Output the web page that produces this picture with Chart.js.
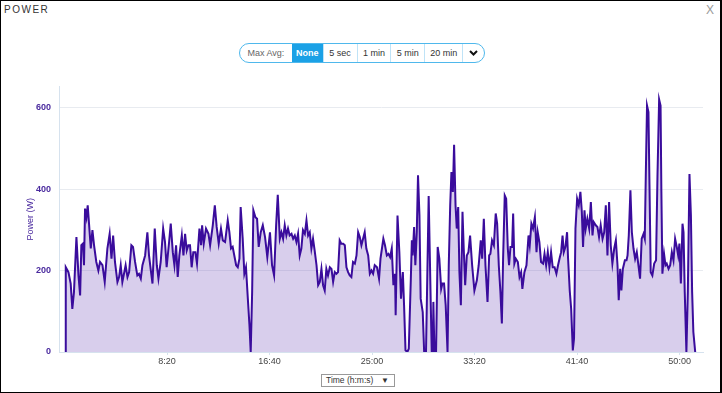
<!DOCTYPE html>
<html>
<head>
<meta charset="utf-8">
<script src="https://cdn.jsdelivr.net/npm/chart.js@4"></script>
<style>
    body { margin: 0; background: #fff; font-family: "Liberation Sans", Arial, sans-serif; }
    .frame { position: relative; width: 722px; height: 393px; box-sizing: border-box; border: 1px solid #000; border-right-width: 2px; overflow: hidden; }
    .title { position: absolute; left: 3px; top: 3px; font-size: 10px; letter-spacing: 1.5px; color: #333; }
    .close { position: absolute; right: 6px; top: 2px; font-size: 12px; color: #999; }
    .pill { position: absolute; left: 238px; top: 42px; width: 246px; height: 20px; box-sizing: border-box; border: 1px solid #4fb8ec; border-radius: 10px; display: flex; overflow: hidden; font-size: 9px; color: #333; }
    .pill div { display: flex; align-items: center; justify-content: center; border-left: 1px solid #bfe3f7; box-sizing: border-box; }
    .pill .lbl { border-left: none; color: #666; width: 52px; }
    .pill .on { background: #1ba1e6; color: #fff; font-weight: bold; border-left: none; }
    .sel { position: absolute; left: 320px; top: 373px; width: 74px; height: 13px; box-sizing: border-box; border: 1px solid #999; font-size: 8.5px; color: #333; line-height: 11px; padding-left: 4px; }
    .sel span { position: absolute; right: 5px; top: 0; font-size: 8px; }
    .chart-box { position: absolute; left: 10px; top: 72px; width: 700px; height: 298px; }
</style>
</head>
<body>
<div class="frame">
    <div class="title">POWER</div>
    <div class="close">X</div>
    <div class="pill">
        <div class="lbl">Max Avg:</div>
        <div class="on" style="width:31px">None</div>
        <div style="width:34px">5 sec</div>
        <div style="width:34px">1 min</div>
        <div style="width:34px">5 min</div>
        <div style="width:38px">20 min</div>
        <div style="width:22px"><svg width="9" height="6" viewBox="0 0 9 6"><path d="M1 1 L4.5 4.5 L8 1" stroke="#111" stroke-width="2" fill="none"/></svg></div>
    </div>
    <div class="chart-box"><canvas id="powerChart"></canvas></div>
    <div class="sel">Time (h:m:s)<span>&#9660;</span></div>
</div>
<script>
// Chart data (seconds, watts)
const timeSec = [4, 6, 19, 30, 38, 46, 58, 68, 76, 82, 90, 95, 100, 107, 113, 120, 128, 136, 144, 155, 165, 173, 185, 196, 209, 220, 229, 237, 246, 258, 266, 274, 282, 290, 298, 307, 315, 326, 334, 344, 355, 363, 372, 380, 393, 404, 412, 420, 429, 440, 450, 458, 469, 481, 490, 498, 510,
    518, 528, 536, 544, 552, 560, 572, 580, 588, 596, 604, 612, 620, 628, 638, 646, 658, 666, 671, 679, 690, 702, 710, 723, 733, 742, 752, 763, 772, 783, 796, 804, 812, 820, 828, 837, 845, 853, 859, 869, 877, 885, 894, 902, 908, 915, 921, 931, 939, 947, 957, 967, 978, 989, 1002, 1012, 1022, 1032,
    1040, 1050, 1058, 1066, 1074, 1082, 1090, 1098, 1107, 1115, 1123, 1131, 1139, 1147, 1155, 1163, 1172, 1180, 1188, 1196, 1204, 1212, 1220, 1229, 1237, 1245, 1253, 1261, 1269, 1277, 1285, 1294, 1302, 1310, 1318, 1326, 1334, 1342, 1350, 1359, 1367, 1375, 1383, 1391, 1399, 1407, 1416, 1424, 1432, 1440, 1448, 1456, 1464, 1472, 1481, 1489, 1497, 1505, 1513, 1524, 1534, 1541,
    1555, 1563, 1572, 1580, 1588, 1596, 1604, 1612, 1615, 1624, 1633, 1641, 1650, 1656, 1663, 1672, 1679, 1689, 1694, 1698, 1705, 1711, 1718, 1724, 1731, 1737, 1747, 1754, 1763, 1776, 1786, 1791, 1796, 1799, 1804, 1812, 1820, 1828, 1837, 1843, 1851, 1859, 1868, 1874, 1881, 1887, 1894, 1900, 1907, 1913, 1920, 1926, 1933, 1941, 1947, 1954, 1962, 1970, 1978, 1988, 1999, 2011, 2020, 2030, 2037, 2045, 2053, 2063,
    2071, 2077, 2085, 2094, 2103, 2110, 2118, 2126, 2133, 2139, 2147, 2154, 2162, 2168, 2175, 2183, 2188, 2194, 2201, 2211, 2219, 2227, 2233, 2243, 2253, 2263, 2269, 2277, 2285, 2294, 2302, 2308, 2316, 2324, 2334, 2341, 2349, 2357, 2365, 2373, 2381, 2390, 2399, 2407, 2416, 2422, 2429, 2435, 2443, 2451, 2456, 2464, 2471, 2479, 2485, 2492, 2500, 2508, 2516, 2523, 2529, 2536, 2542, 2550, 2559, 2567, 2575, 2581, 2591,
    2599, 2607, 2615, 2624, 2632, 2640, 2648, 2656, 2664, 2672, 2681, 2689, 2697, 2703, 2710, 2716, 2723, 2733, 2741, 2746, 2752, 2760, 2767, 2775, 2783, 2791, 2799, 2807, 2815, 2824, 2830, 2835, 2841, 2848, 2853, 2859, 2867, 2876, 2885, 2892, 2900, 2907, 2911, 2916, 2924, 2931, 2937, 2946, 2954, 2962, 2970, 2978, 2986, 2993, 2999, 3006, 3014, 3019, 3025, 3033, 3040, 3048, 3055, 3061, 3067, 3076];
const powerW = [0, 208, 196, 168, 106, 147, 282, 188, 139, 262, 266, 213, 352, 331, 360, 311, 254, 299, 262, 221, 200, 221, 213, 172, 254, 290, 229, 286, 221, 172, 184, 213, 172, 192, 213, 184, 196, 262, 258, 221, 188, 192, 180, 213, 237, 294, 237, 204, 168, 303, 213, 180, 221, 303, 270, 208, 270,
    315, 245, 213, 262, 184, 237, 286, 237, 290, 249, 262, 262, 208, 245, 245, 217, 303, 262, 311, 266, 303, 290, 262, 311, 360, 307, 266, 303, 274, 270, 323, 294, 254, 258, 237, 213, 208, 229, 356, 278, 192, 208, 131, 65, 0, 147, 348, 331, 327, 258, 294, 311, 282, 233, 294, 213, 188, 311,
    386, 278, 294, 278, 311, 286, 303, 286, 290, 278, 286, 270, 290, 237, 254, 299, 290, 323, 286, 294, 254, 278, 249, 213, 164, 172, 204, 164, 151, 204, 188, 208, 204, 172, 196, 192, 196, 274, 266, 266, 262, 208, 196, 188, 184, 221, 217, 237, 294, 282, 262, 278, 294, 254, 237, 192, 200, 192, 213, 208, 180, 229,
    278, 262, 237, 241, 233, 254, 164, 192, 90, 335, 245, 131, 196, 115, 4, 0, 8, 180, 274, 237, 307, 213, 294, 434, 335, 131, 98, 0, 0, 383, 123, 0, 0, 123, 0, 0, 258, 229, 155, 168, 168, 115, 0, 213, 360, 442, 393, 509, 360, 303, 356, 196, 115, 344, 254, 164, 237, 245, 286, 213, 151, 176, 213, 274, 229, 327, 213, 123,
    237, 241, 274, 262, 340, 315, 213, 147, 70, 229, 384, 376, 254, 213, 258, 258, 340, 217, 229, 221, 184, 196, 155, 196, 213, 286, 262, 315, 303, 331, 245, 294, 270, 221, 217, 241, 213, 245, 208, 245, 208, 208, 192, 213, 233, 245, 286, 245, 258, 294, 229, 151, 106, 4, 33, 303, 376, 360, 393, 344, 258, 348, 303, 327, 303, 368, 286, 319, 311,
    307, 282, 311, 278, 294, 360, 237, 368, 262, 217, 254, 274, 213, 127, 204, 151, 204, 225, 225, 237, 286, 397, 294, 254, 229, 245, 213, 180, 278, 290, 278, 434, 605, 589, 409, 196, 188, 217, 225, 434, 620, 605, 393, 192, 241, 213, 217, 204, 213, 245, 225, 278, 258, 237, 266, 168, 315, 294, 147, 0, 147, 437, 335, 147, 49, 0];

// Tick labels
const xTicks = [500, 1000, 1500, 2000, 2500, 3000];
const yTicks = [0, 200, 400, 600];

function fmtTime(sec) {
    const m = Math.floor(sec / 60);
    const s = sec % 60;
    return m + ':' + (s < 10 ? '0' : '') + s;
}

const points = timeSec.map((t, i) => ({ x: t, y: powerW[i] }));

const ctx = document.getElementById('powerChart').getContext('2d');
new Chart(ctx, {
    type: 'line',
    data: {
        datasets: [{
            label: 'Power (W)',
            data: points,
            borderColor: '#3a0c9c',
            backgroundColor: 'rgba(100, 60, 180, 0.25)',
            borderWidth: 2,
            fill: 'origin',
            tension: 0,
            pointRadius: 0
        }]
    },
    options: {
        responsive: true,
        maintainAspectRatio: false,
        animation: false,
        layout: { padding: { top: 5, right: 8, bottom: 0, left: 0 } },
        plugins: {
            legend: { display: false },
            tooltip: { enabled: false }
        },
        scales: {
            x: {
                type: 'linear',
                min: -27,
                max: 3114,
                afterBuildTicks: (scale) => { scale.ticks = xTicks.map(v => ({ value: v })); },
                afterFit: (scale) => { scale.height = 19; },
                border: { color: '#d6e2ee' },
                grid: { drawOnChartArea: false, tickLength: 3, color: '#d6e2ee' },
                ticks: {
                    padding: 1,
                    color: '#444',
                    font: { family: 'Liberation Sans', size: 9 },
                    callback: (v) => fmtTime(v)
                }
            },
            y: {
                min: 0,
                max: 652,
                afterBuildTicks: (scale) => { scale.ticks = yTicks.map(v => ({ value: v })); },
                afterFit: (scale) => { scale.width = 48; },
                border: { color: '#d6e2ee' },
                grid: { color: '#e8ebf0', drawTicks: false },
                ticks: {
                    padding: 8,
                    color: '#4a2a9e',
                    font: { family: 'Liberation Sans', size: 9, weight: 'bold' }
                },
                title: {
                    display: true,
                    text: 'Power (W)',
                    color: '#4a2a9e',
                    padding: { top: 14, bottom: 0 },
                    font: { family: 'Liberation Sans', size: 9 }
                }
            }
        }
    }
});
</script>
</body>
</html>
